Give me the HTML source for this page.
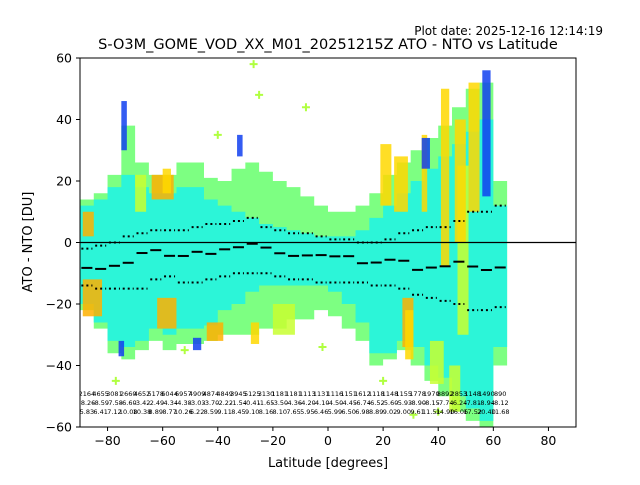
<!DOCTYPE html>
<html><head><meta charset="utf-8"><style>
body{margin:0;background:#fff;font-family:"Liberation Sans","DejaVu Sans",sans-serif}
</style></head><body>
<svg id="chart" width="640" height="480" xmlns="http://www.w3.org/2000/svg" font-family="DejaVu Sans, Liberation Sans, sans-serif">
<rect width="640" height="480" fill="#fff"/>
<text x="603" y="35" font-size="12" text-anchor="end">Plot date: 2025-12-16 12:14:19</text>
<text x="328" y="49" font-size="14.5" text-anchor="middle">S-O3M_GOME_VOD_XX_M01_20251215Z ATO - NTO vs Latitude</text>
<defs><clipPath id="clip"><rect x="80" y="58" width="496" height="369"/></clipPath></defs>
<g id="marks" clip-path="url(#clip)"></g>
<g id="axes"></g>
<text x="328" y="467" font-size="13" text-anchor="middle">Latitude [degrees]</text>
<text transform="translate(32,242) rotate(-90)" font-size="13" text-anchor="middle">ATO - NTO [DU]</text>
</svg>
<script>
const lats=[-87.5,-82.5,-77.5,-72.5,-67.5,-62.5,-57.5,-52.5,-47.5,-42.5,-37.5,-32.5,-27.5,-22.5,-17.5,-12.5,-7.5,-2.5,2.5,7.5,12.5,17.5,22.5,27.5,32.5,37.5,42.5,47.5,52.5,57.5,62.5];
const cloudHi=[14,16,22,38,26,22,22,26,26,21,20,24,26,23,20,18,15,12,10,10,12,16,22,26,30,34,38,44,50,52,20];
const cloudLo=[-22,-28,-36,-38,-35,-32,-35,-33,-33,-32,-30,-30,-30,-28,-28,-25,-25,-22,-24,-28,-32,-40,-38,-35,-40,-45,-50,-55,-58,-60,-40];
const coreHi=[12,14,18,22,18,16,16,18,18,14,12,10,8,6,5,4,3,2,2,2,4,8,12,16,20,24,28,32,36,40,12];
const coreLo=[-20,-26,-32,-34,-32,-28,-30,-28,-28,-27,-22,-20,-16,-14,-14,-14,-14,-14,-16,-20,-26,-36,-36,-32,-34,-40,-44,-50,-54,-58,-34];
const meanVals=[-8.26,-8.59,-7.58,-6.6,-3.42,-2.49,-4.34,-4.38,-3.03,-3.7,-2.22,-1.54,-0.41,-1.65,-3.5,-4.36,-4.2,-4.1,-4.5,-4.45,-6.74,-6.52,-5.6,-5.93,-8.9,-8.15,-7.74,-6.24,-7.81,-8.94,-8.12];
const upperVals=[-2,-1,0,2,3,4,4,4,5,6,6,7,8,5,4,3,3,2,1,1,0,0,1,3,4,5,5,7,10,10,12];
const lowerVals=[-14,-15,-15,-15,-15,-12,-11,-13,-13,-12,-11,-10,-10,-10,-11,-12,-12,-13,-13,-13,-13,-14,-14,-15,-17,-18,-19,-20,-22,-22,-21];
const counts=[2164,4655,3081,2660,4652,5178,6044,6957,4909,4874,4849,3945,5125,3130,1181,1181,1113,1131,1116,1151,1612,1118,1148,1155,1778,1970,8892,2853,1148,1490,890];
const stds=[5.83,6.41,7.12,10.08,10.38,8.89,8.77,10.26,6.22,8.59,9.11,8.45,9.10,8.16,8.10,7.65,5.95,6.46,5.99,6.50,6.98,8.89,9.02,9.00,9.61,11.51,14.90,16.06,17.52,20.40,11.68];
// colored clusters: [latFrom, latTo, hi, lo]
const orangeClusters=[[-89,-82,-12,-24],[-89,-85,10,2],[-64,-56,22,14],[-62,-55,-18,-28],[-44,-38,-26,-32],[27,31,-18,-34]];
const yellowClusters=[[-60,-57,24,16],[19,23,32,12],[24,29,28,10],[34,36,35,10],[41,44,50,-8],[46,50,40,0],[51,55,52,10],[-28,-25,-26,-33],[28,31,-22,-38]];
const limeClusters=[[-70,-66,22,10],[37,42,-32,-46],[47,51,25,-30],[-20,-12,-20,-30],[44,48,-40,-55]];
const blueClusters=[[-75,-73,46,30],[-76,-74,-32,-37],[-33,-31,35,28],[34,37,34,24],[56,59,56,15],[-49,-46,-31,-35]];
const outliers=[[-77,-45],[-27,58],[-25,48],[-8,44],[-40,35],[20,-45],[40,-55],[-52,-35],[-2,-34],[31,-56]];

const X=v=>80+(v+90)*496/180;
const Y=v=>242.5-v*369/120;
const NS="http://www.w3.org/2000/svg";
const marks=document.getElementById('marks'),axes=document.getElementById('axes');
function mk(tag,attrs,parent){const e=document.createElementNS(NS,tag);for(const k in attrs)e.setAttribute(k,attrs[k]);parent.appendChild(e);return e;}
function band(hi,lo,fill,name){
  let top=lats.map((l,i)=>X(l-2.5)+','+Y(hi[i])+' '+X(l+2.5)+','+Y(hi[i]));
  let bot=lats.map((l,i)=>X(l+2.5)+','+Y(lo[i])+' '+X(l-2.5)+','+Y(lo[i])).reverse();
  const p=mk('polygon',{points:top.join(' ')+' '+bot.join(' '),fill:fill},marks);
  
  
}
band(cloudHi,cloudLo,'#7dff82','scatter-cloud');
band(coreHi,coreLo,'#2cf5d8','scatter-core');
function clusters(arr,fill,name){arr.forEach(c=>{
  const r=mk('rect',{x:X(c[0]),y:Y(c[2]),width:X(c[1])-X(c[0]),height:Y(c[3])-Y(c[2]),fill:fill,opacity:0.85},marks);
  
  
});}
clusters(limeClusters,'#c8ff30','lime-cluster');
clusters(orangeClusters,'#ffb000','orange-cluster');
clusters(yellowClusters,'#ffd800','yellow-cluster');
clusters(blueClusters,'#1040f0','blue-cluster');
outliers.forEach(o=>{
  const g=mk('path',{d:`M${X(o[0])-4},${Y(o[1])}h8M${X(o[0])},${Y(o[1])-4}v8`,stroke:'#b0ff40','stroke-width':2},marks);
  
  
});
const z=mk('line',{x1:80,x2:576,y1:Y(0),y2:Y(0),stroke:'#000','stroke-width':1.2},marks);


lats.forEach((l,i)=>{
  const m=mk('line',{x1:X(l-2),x2:X(l+2),y1:Y(meanVals[i]),y2:Y(meanVals[i]),stroke:'#000','stroke-width':2},marks);
  
  
  const u=mk('line',{x1:X(l-2),x2:X(l+2),y1:Y(upperVals[i]),y2:Y(upperVals[i]),stroke:'#000','stroke-width':2,'stroke-dasharray':'2,3'},marks);
  
  
  const lo=mk('line',{x1:X(l-2),x2:X(l+2),y1:Y(lowerVals[i]),y2:Y(lowerVals[i]),stroke:'#000','stroke-width':2,'stroke-dasharray':'2,3'},marks);
  
  
  [[counts[i],396],[meanVals[i].toFixed(2),405],[stds[i].toFixed(2),414]].forEach(t=>{
    const tx=mk('text',{x:X(l),y:t[1],'font-size':6.5,'text-anchor':'middle',fill:'#000'},marks);
    tx.textContent=t[0];
    
    
  });
});
const fr=mk('rect',{x:80,y:58,width:496,height:369,fill:'none',stroke:'#000','stroke-width':1},axes);


const xTicks=[-80,-60,-40,-20,0,20,40,60,80];
const yTicks=[-60,-40,-20,0,20,40,60];
xTicks.forEach(t=>{
  const l=mk('line',{x1:X(t),x2:X(t),y1:427,y2:431,stroke:'#000'},axes);
  
  
  const tx=mk('text',{x:X(t),y:445,'font-size':12.5,'text-anchor':'middle'},axes);
  tx.textContent=t<0?'\u2212'+(-t):t;
  
  
});
yTicks.forEach(t=>{
  const l=mk('line',{x1:76,x2:80,y1:Y(t),y2:Y(t),stroke:'#000'},axes);
  
  
  const tx=mk('text',{x:72,y:Y(t)+4.5,'font-size':12.5,'text-anchor':'end'},axes);
  tx.textContent=t<0?'\u2212'+(-t):t;
  
  
});
</script>
</body></html>
